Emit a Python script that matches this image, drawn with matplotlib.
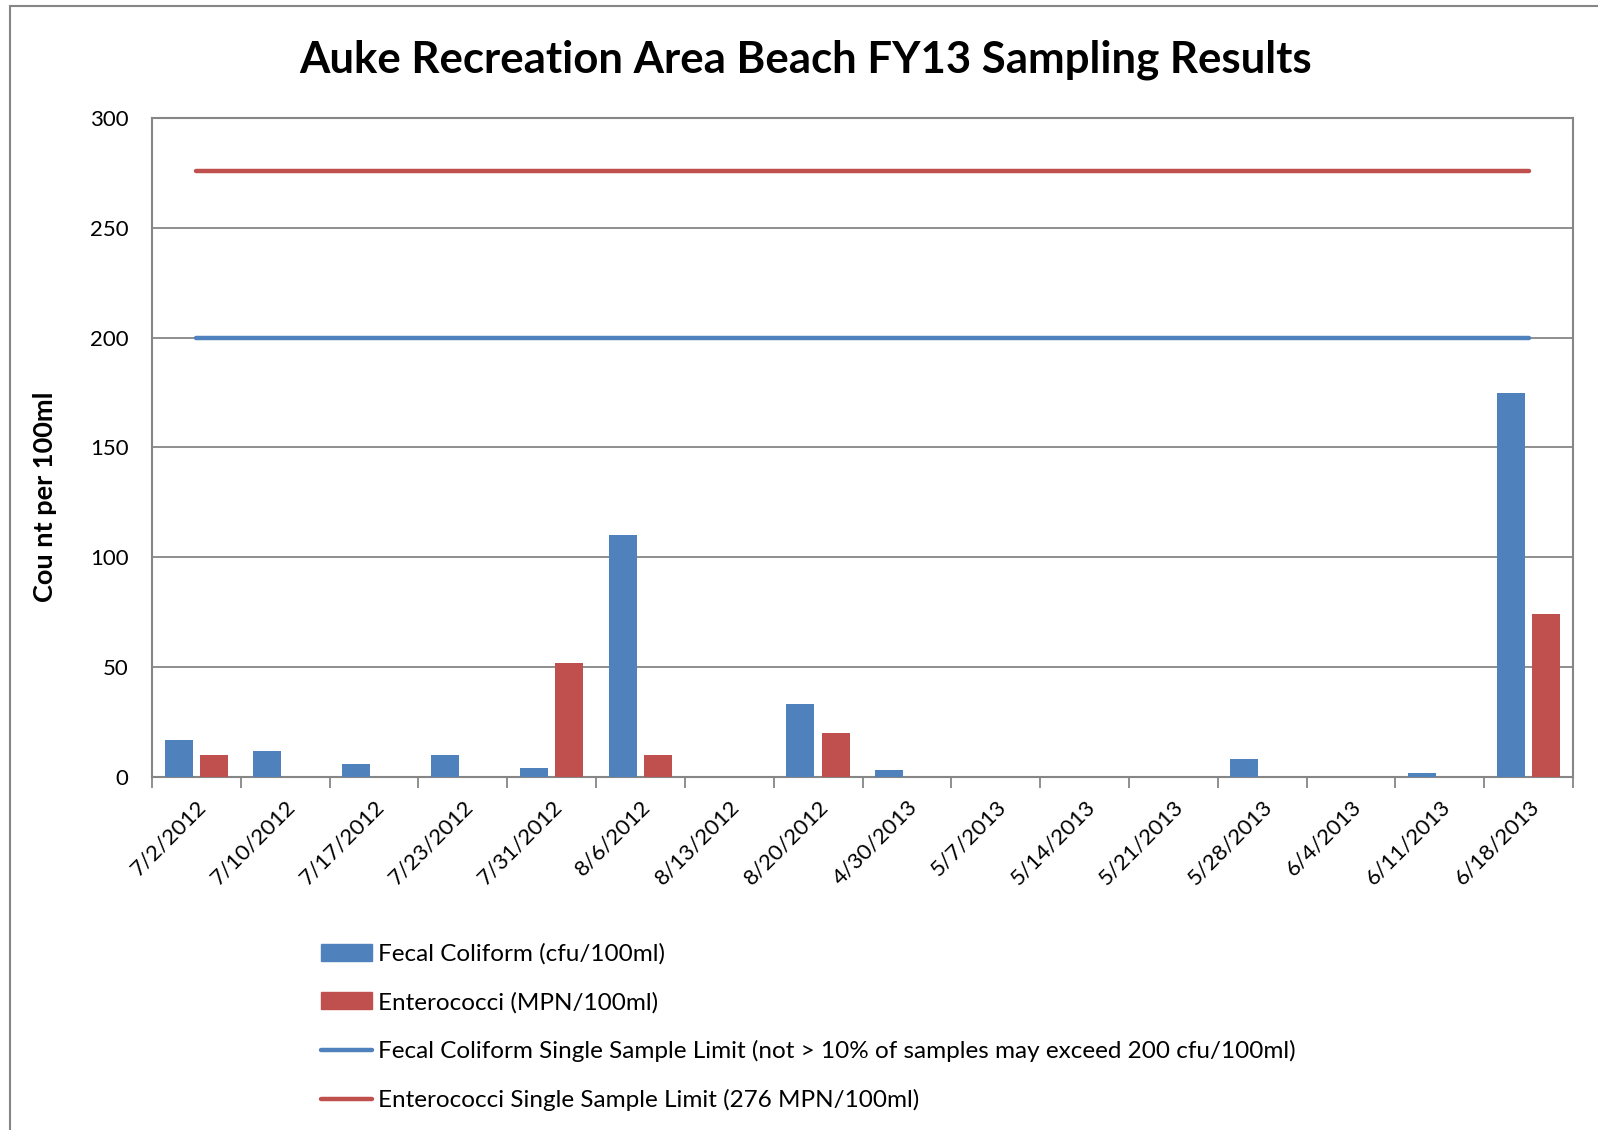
import matplotlib
matplotlib.use("Agg")
import matplotlib.pyplot as plt
from matplotlib.patches import Rectangle
from matplotlib.lines import Line2D
from matplotlib.patches import Patch
import numpy as np

plt.rcParams['font.family'] = ['Lato', 'DejaVu Sans']

dates = ["7/2/2012", "7/10/2012", "7/17/2012", "7/23/2012", "7/31/2012", "8/6/2012",
         "8/13/2012", "8/20/2012", "4/30/2013", "5/7/2013", "5/14/2013", "5/21/2013",
         "5/28/2013", "6/4/2013", "6/11/2013", "6/18/2013"]
fecal = [17, 12, 6, 10, 4, 110, 0, 33, 3, 0, 0, 0, 8, 0, 2, 175]
entero = [10, 0, 0, 0, 52, 10, 0, 20, 0, 0, 0, 0, 0, 0, 0, 74]
fecal_limit = 200
entero_limit = 276

blue = "#4F81BD"
red = "#C0504D"
grid_c = "#868686"

fig = plt.figure(figsize=(15.98, 11.3), dpi=100)
ax = fig.add_axes([0.0951, 0.3124, 0.8893, 0.5832])

x = np.arange(len(dates))
bw = 0.315
ax.bar(x - 0.2, fecal, width=bw, color=blue, zorder=3)
ax.bar(x + 0.2, entero, width=bw, color=red, zorder=3)
ax.plot(x, [fecal_limit] * len(x), color=blue, lw=3.2, solid_capstyle='round', zorder=4)
ax.plot(x, [entero_limit] * len(x), color=red, lw=3.2, solid_capstyle='round', zorder=4)

ax.set_xlim(-0.5, len(dates) - 0.5)
ax.set_ylim(0, 300)
ax.set_yticks([0, 50, 100, 150, 200, 250, 300])
ax.yaxis.grid(True, color=grid_c, lw=1.3, zorder=0)
ax.set_axisbelow(True)
ax.set_xticks(np.arange(len(dates) + 1) - 0.5, minor=False)
ax.set_xticklabels([])
ax.set_xticks(x, minor=True)
ax.set_xticklabels(dates, minor=True, rotation=45, ha='right', rotation_mode='anchor', fontsize=16)
ax.tick_params(axis='x', which='major', length=8, color=grid_c, width=1.3, direction='out')
ax.tick_params(axis='x', which='minor', length=0, pad=14)
ax.tick_params(axis='y', length=0, labelsize=16, pad=17)
for s in ax.spines.values():
    s.set_color(grid_c)
    s.set_linewidth(1.5)

fig.text(0.504, 0.947, "Auke Recreation Area Beach FY13 Sampling Results", ha='center', va='center',
         fontsize=31.5, fontweight='bold')
fig.text(0.028, 0.56, "Cou nt per 100ml", rotation=90, ha='center', va='center',
         fontsize=19.5, fontweight='bold')

handles = [Patch(color=blue), Patch(color=red),
           Line2D([0], [0], color=blue, lw=3.2, solid_capstyle='round'),
           Line2D([0], [0], color=red, lw=3.2, solid_capstyle='round')]
labels = ["Fecal Coliform (cfu/100ml)", "Enterococci (MPN/100ml)",
          "Fecal Coliform Single Sample Limit (not > 10% of samples may exceed 200 cfu/100ml)",
          "Enterococci Single Sample Limit (276 MPN/100ml)"]
fig.legend(handles, labels, loc='upper left', bbox_to_anchor=(0.201, 0.1654), frameon=False,
           fontsize=17.5, handlelength=2.1, handleheight=0.7, handletextpad=0.25, labelspacing=1.11,
           borderaxespad=0, borderpad=0)

fig.add_artist(Rectangle((10 / 1598, -0.01), 1.1, 1 - 6 / 1130 + 0.01, transform=fig.transFigure,
                         fill=False, edgecolor=grid_c, lw=1.5))

fig.savefig("out.png", dpi=100, facecolor='white')
